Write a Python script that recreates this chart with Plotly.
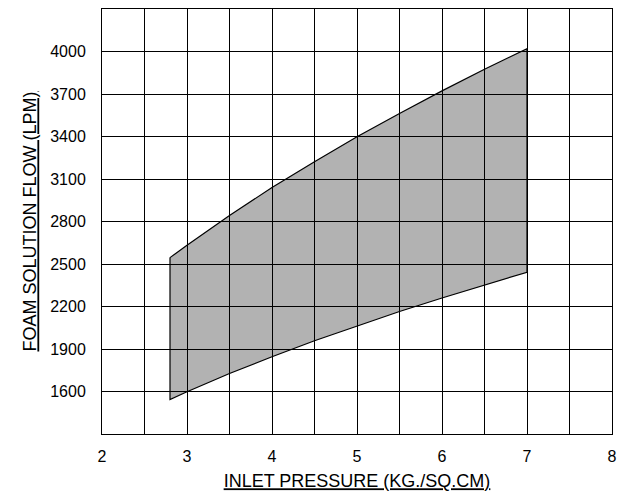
import plotly.graph_objects as go

# Inlet pressure (kg/sq.cm) sampled along the envelope
pressure = [2.8, 3.0, 3.5, 4.0, 4.5, 5.0, 5.5, 6.0, 6.5, 7.0]
# Upper and lower bounds of foam solution flow (LPM)
flow_max = [2545, 2632, 2842, 3040, 3222, 3398, 3563, 3722, 3875, 4020]
flow_min = [1543, 1598, 1727, 1845, 1958, 2063, 2165, 2260, 2352, 2442]

x_ticks = [2, 3, 4, 5, 6, 7, 8]
y_ticks = [1600, 1900, 2200, 2500, 2800, 3100, 3400, 3700, 4000]

poly_x = pressure + pressure[::-1] + [pressure[0]]
poly_y = flow_max + flow_min[::-1] + [flow_max[0]]

fig = go.Figure()
fig.add_trace(go.Scatter(
    x=poly_x, y=poly_y, mode="lines", fill="toself",
    fillcolor="rgba(0,0,0,0.3)",
    line=dict(color="black", width=1.2),
    hoverinfo="skip", showlegend=False,
))

FONT = "Liberation Sans, Arial, sans-serif"

# page body has an 8px default margin, so the figure is sized to fit inside
fig.update_layout(
    width=617, height=490,
    margin=dict(l=94, r=13, t=1, b=64),
    paper_bgcolor="white", plot_bgcolor="white",
    font=dict(family=FONT, color="black", size=15),
    showlegend=False,
)
fig.update_xaxes(
    range=[2, 8], tickvals=x_ticks, ticktext=[str(v) for v in x_ticks],
    showgrid=True, gridcolor="black", gridwidth=1,
    minor=dict(dtick=0.5, showgrid=True, gridcolor="black", gridwidth=1),
    showline=True, linecolor="black", linewidth=1, mirror=True,
    ticks="", ticklabelstandoff=8, zeroline=False,
    tickfont=dict(size=16),
    title=dict(text="<u>INLET PRESSURE (KG./SQ.CM)</u>", font=dict(size=18), standoff=10),
)
fig.update_yaxes(
    range=[1300, 4300], tickvals=y_ticks, ticktext=[str(v) for v in y_ticks],
    showgrid=True, gridcolor="black", gridwidth=1,
    showline=True, linecolor="black", linewidth=1, mirror=True,
    ticks="", ticklabelstandoff=12, zeroline=False,
    tickfont=dict(size=16),
    title=dict(text="<u>FOAM SOLUTION FLOW (LPM)</u>", font=dict(size=18), standoff=8),
)

fig.write_html("out.html")
